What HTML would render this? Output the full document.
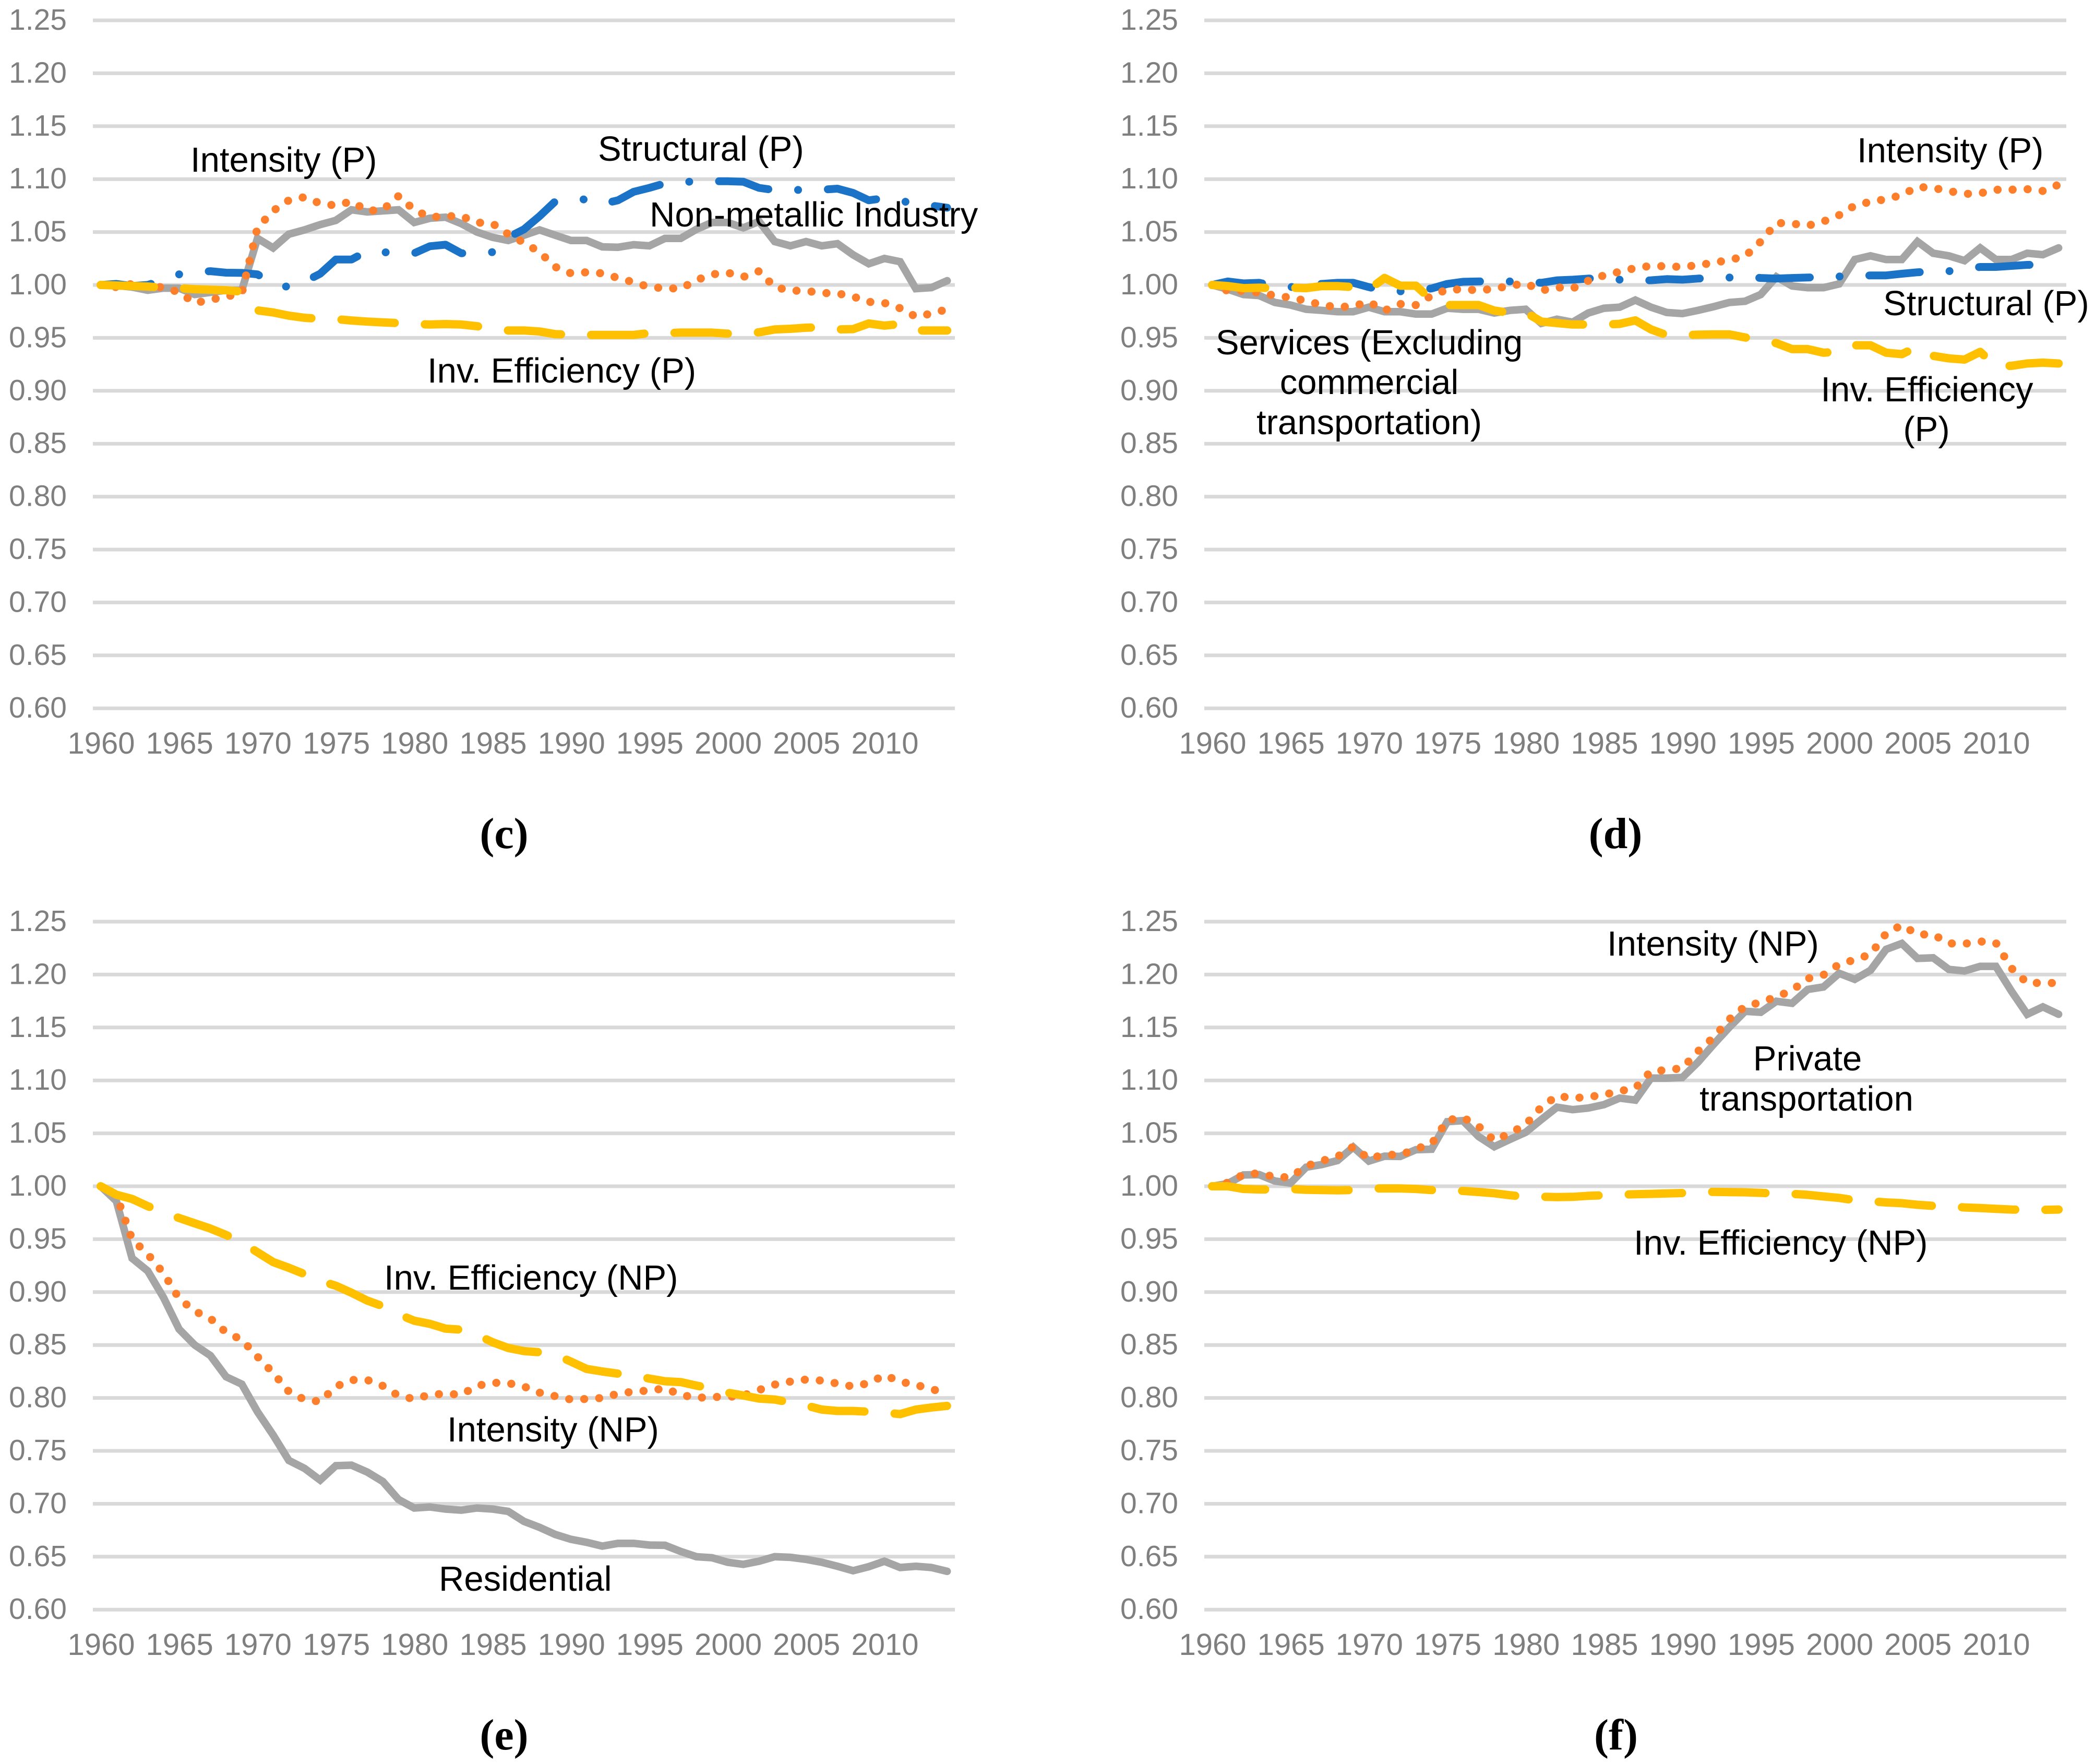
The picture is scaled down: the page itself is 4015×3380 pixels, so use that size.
<!DOCTYPE html>
<html lang="en">
<head>
<meta charset="utf-8">
<title>Decomposition index charts (c)-(f)</title>
<style>
html,body{margin:0;padding:0;background:#fff;}
svg{display:block;}
.ann{font-family:"Liberation Sans",sans-serif;font-size:67px;fill:#000;}
.tick{font-family:"Liberation Sans",sans-serif;font-size:57px;fill:#7f7f7f;}
.xtick{font-size:58px;}
.cap{font-family:"Liberation Serif",serif;font-size:84px;font-weight:bold;fill:#000;text-anchor:middle;}
</style>
</head>
<body>
<svg id="figure" xmlns="http://www.w3.org/2000/svg" width="4015" height="3380" viewBox="0 0 4015 3380">
<rect x="0" y="0" width="4015" height="3380" fill="#ffffff"/>
<g id="marks"></g>
<g id="labels">
<text class="ann" x="365" y="329">Intensity (P)</text>
<text class="ann" x="1146" y="308">Structural (P)</text>
<text class="ann" x="1245" y="434">Non-metallic Industry</text>
<text class="ann" x="819" y="733">Inv. Efficiency (P)</text>
<text class="cap" x="966" y="1625">(c)</text>

<text class="ann" x="3559" y="311">Intensity (P)</text>
<text class="ann" x="3609" y="604">Structural (P)</text>
<text class="ann" x="2624" y="679" text-anchor="middle">Services (Excluding</text>
<text class="ann" x="2624" y="755" text-anchor="middle">commercial</text>
<text class="ann" x="2624" y="832" text-anchor="middle">transportation)</text>
<text class="ann" x="3693" y="769" text-anchor="middle">Inv. Efficiency</text>
<text class="ann" x="3692" y="845" text-anchor="middle">(P)</text>
<text class="cap" x="3096" y="1625">(d)</text>

<text class="ann" x="736" y="2471">Inv. Efficiency (NP)</text>
<text class="ann" x="857" y="2762">Intensity (NP)</text>
<text class="ann" x="841" y="3048">Residential</text>
<text class="cap" x="966" y="3352">(e)</text>

<text class="ann" x="3080" y="1831">Intensity (NP)</text>
<text class="ann" x="3464" y="2051" text-anchor="middle">Private</text>
<text class="ann" x="3462" y="2128" text-anchor="middle">transportation</text>
<text class="ann" x="3131" y="2404">Inv. Efficiency (NP)</text>
<text class="cap" x="3097" y="3352">(f)</text>
</g>
</svg>
<script>
var years = [];
for (var yr = 1960; yr <= 2014; yr++) { years.push(yr); }
var xTickLabels = [1960,1965,1970,1975,1980,1985,1990,1995,2000,2005,2010];
var yTickLabels = [1.25,1.20,1.15,1.10,1.05,1.00,0.95,0.90,0.85,0.80,0.75,0.70,0.65,0.60];

var cGray = [
1.000,.9995,.998,.995,.997,.997,.991,.993,.995,.995,
1.044,1.035,1.048,1.052,1.057,1.061,1.071,1.069,1.070,1.071,
1.059,1.063,1.064,1.058,1.050,1.045,1.042,1.047,1.052,1.047,
1.042,1.042,1.036,1.0356,1.038,1.037,1.044,1.044,1.0525,1.059,
1.059,1.054,1.060,1.041,1.037,1.041,1.037,1.039,1.0285,1.020,
1.025,1.022,.9965,.9975,1.004];
var cOrange = [
1.000,.998,1.001,.998,.998,.993,.983,.986,.989,.992,
1.054,1.070,1.080,1.083,1.077,1.075,1.079,1.070,1.071,1.084,
1.071,1.064,1.065,1.065,1.059,1.058,1.048,1.040,1.031,1.017,
1.011,1.012,1.011,1.0066,1.0025,.998,.997,.9965,1.0045,1.010,
1.0116,1.0076,1.013,.998,.9947,.9944,.9924,.992,.989,.984,
.983,.978,.970,.973,.977];
var cBlue = [
1.000,1.001,.999,1.000,1.005,1.010,1.012,1.013,1.0116,1.0114,
1.010,1.001,.998,1.003,1.0106,1.024,1.024,1.032,1.031,1.030,
1.030,1.0366,1.038,1.030,1.030,1.031,1.045,1.0525,1.065,1.079,
1.080,1.081,1.0765,1.080,1.088,1.0917,1.096,1.097,1.098,1.098,
1.098,1.0975,1.0917,1.0896,1.0896,1.090,1.090,1.091,1.087,1.080,
1.082,1.080,1.076,1.075,1.073];
var cYellow = [
1.000,.9995,.999,.9985,.9975,.997,.996,.9955,.995,.9937,
.976,.974,.971,.969,.968,.9677,.9664,.9654,.9646,.964,
.963,.9626,.963,.9626,.961,.9596,.957,.957,.956,.9535,
.953,.9528,.9528,.9528,.9528,.9545,.9545,.955,.955,.955,
.954,.954,.9553,.958,.9586,.9596,.960,.958,.9583,.9636,
.9616,.963,.957,.957,.957];

var dGray = [
1.000,.996,.991,.990,.9835,.981,.977,.976,.9747,.9747,
.979,.9747,.9747,.9725,.9725,.978,.977,.977,.9735,.976,
.977,.9637,.9676,.9648,.9735,.978,.979,.9857,.979,.974,
.973,.976,.9795,.9835,.9846,.991,1.0077,.999,.9974,.9974,
1.001,1.024,1.0275,1.024,1.024,1.041,1.030,1.0275,1.023,1.035,
1.024,1.024,1.030,1.0286,1.035];
var dOrange = [
1.000,.9945,.9945,.9927,.990,.988,.985,.981,.979,.980,
.984,.9758,.982,.981,.990,.9956,.9958,.995,.9963,.9993,
1.0015,.9947,.9978,.9967,1.004,1.009,1.0125,1.016,1.018,1.0176,
1.017,1.0187,1.021,1.0236,1.027,1.041,1.0586,1.058,1.056,1.060,
1.066,1.075,1.0786,1.081,1.085,1.0927,1.0916,1.0888,1.086,1.0866,
1.090,1.090,1.0905,1.0888,1.0947];
var dBlue = [
1.000,1.0033,1.0015,1.002,.999,.998,.9993,1.001,1.002,1.002,
.998,.9945,.994,.995,.9967,1.001,1.003,1.0033,1.0033,1.0033,
1.0033,1.002,1.0044,1.005,1.006,1.0064,1.005,1.004,1.0044,1.0055,
1.005,1.006,1.0066,1.007,1.0077,1.0066,1.006,1.0066,1.007,1.0077,
1.008,1.008,1.009,1.009,1.0106,1.012,1.0128,1.013,1.0148,1.017,
1.017,1.018,1.019,1.019,1.019];
var dYellow = [
1.000,.9989,.997,.9974,.997,.9974,.997,.9989,.9989,.998,
.9956,1.0066,.9993,.9993,.9857,.981,.981,.981,.9758,.9736,
.974,.9654,.964,.9626,.9626,.9626,.9632,.9665,.958,.9526,
.9526,.953,.9533,.9533,.9504,.948,.945,.9394,.9394,.936,
.937,.943,.943,.936,.9346,.9416,.933,.9306,.9295,.9368,
.923,.9236,.9258,.9266,.9258];

var eGray = [
1.000,.986,.932,.920,.895,.865,.850,.840,.820,.813,
.787,.765,.741,.7335,.7224,.736,.7365,.730,.721,.704,
.696,.697,.695,.694,.696,.695,.6928,.6834,.6777,.671,
.6664,.6636,.660,.6626,.6626,.661,.6608,.655,.650,.649,
.6447,.6428,.6457,.650,.6494,.6475,.6447,.641,.6368,.6406,
.6457,.6398,.641,.6398,.6362];
var eOrange = [
1.000,.9915,.950,.9358,.918,.894,.882,.875,.862,.855,
.839,.8237,.806,.7984,.7966,.8107,.817,.817,.8114,.802,
.799,.803,.804,.803,.8114,.8144,.814,.8108,.805,.8017,
.7985,.799,.800,.804,.806,.807,.809,.803,.800,.801,
.801,.8023,.8075,.8126,.8155,.8174,.8164,.8136,.8108,.814,
.8215,.8155,.8123,.8085,.804];
var eYellow = [
1.000,.992,.988,.9812,.975,.970,.965,.960,.954,.947,
.9376,.9284,.923,.917,.9106,.906,.8994,.892,.8867,.879,
.873,.870,.8655,.8645,.8597,.8526,.8472,.8443,.8432,.841,
.8343,.8274,.825,.823,.8211,.8183,.8158,.815,.8117,.8089,
.805,.8023,.7994,.7985,.7957,.7928,.789,.7877,.7877,.787,
.7862,.7847,.789,.791,.7925];

var fGray = [
1.000,1.0025,1.0107,1.011,1.005,1.003,1.018,1.0205,1.0243,1.037,
1.0238,1.0284,1.0282,1.0345,1.035,1.061,1.062,1.047,1.0374,1.0443,
1.051,1.063,1.0747,1.0724,1.0739,1.0771,1.0833,1.0814,1.1022,1.1022,
1.1028,1.1173,1.1342,1.1503,1.1653,1.1644,1.1748,1.1729,1.186,1.1883,
1.2012,1.1955,1.204,1.2238,1.2294,1.2153,1.2159,1.2049,1.2034,1.2078,
1.2078,1.1842,1.1625,1.1695,1.1625];
var fOrange = [
1.000,1.0033,1.011,1.0123,1.0087,1.0085,1.019,1.024,1.028,1.0374,
1.026,1.030,1.0295,1.0353,1.040,1.0624,1.065,1.0566,1.0433,1.050,
1.0583,1.0747,1.0854,1.0833,1.0843,1.0865,1.0899,1.0928,1.1088,1.1097,
1.1116,1.1276,1.1408,1.1578,1.170,1.1738,1.179,1.1851,1.1963,1.1997,
1.2097,1.214,1.2191,1.2389,1.2468,1.2379,1.2379,1.2295,1.2291,1.2313,
1.230,1.2059,1.1921,1.1921,1.192];
var fYellow = [
1.000,1.000,.9975,.997,.997,.9975,.9967,.9964,.9962,.9964,
.998,.998,.998,.9975,.9964,.9962,.9956,.9946,.9934,.9915,
.990,.9901,.9898,.990,.991,.9915,.992,.9925,.9928,.9932,
.9936,.9943,.9947,.9945,.9943,.9938,.9932,.9928,.9919,.9904,
.989,.9868,.9859,.9847,.984,.9825,.9815,.981,.980,.9794,
.9787,.978,.9777,.9777,.978];

var SVG_NS = 'http://www.w3.org/2000/svg';
var GRAY = '#a5a5a5', BLUE = '#1a73c7', ORANGE = '#fd7f2c', YELLOW = '#ffc000';
var marksRoot = document.getElementById('marks');

function makeAxisX(left) {
  return function (year) { return left + 15 + (year - years[0]) * 30.04; };
}
function makeAxisY(oneY) {
  return function (value) { return oneY - (value - 1) * 2028; };
}
function drawPanel(id, left, oneY, labelRight, series) {
  var xAxis = makeAxisX(left);
  var yAxis = makeAxisY(oneY);
  var g = document.createElementNS(SVG_NS, 'g');
  
  
  marksRoot.appendChild(g);

  yTickLabels.forEach(function (tick) {
    var line = document.createElementNS(SVG_NS, 'line');
    
    
    line.setAttribute('x1', left);
    line.setAttribute('x2', left + 1652);
    line.setAttribute('y1', yAxis(tick));
    line.setAttribute('y2', yAxis(tick));
    line.setAttribute('stroke', '#d9d9d9');
    line.setAttribute('stroke-width', '7');
    g.appendChild(line);

    var label = document.createElementNS(SVG_NS, 'text');
    
    
    label.setAttribute('class', 'tick');
    label.setAttribute('x', labelRight);
    label.setAttribute('y', yAxis(tick) + 18);
    label.setAttribute('text-anchor', 'end');
    label.textContent = tick.toFixed(2);
    g.appendChild(label);
  });

  xTickLabels.forEach(function (year) {
    var label = document.createElementNS(SVG_NS, 'text');
    
    
    label.setAttribute('class', 'tick xtick');
    label.setAttribute('x', xAxis(year) + 1);
    label.setAttribute('y', yAxis(0.60) + 87);
    label.setAttribute('text-anchor', 'middle');
    label.textContent = String(year);
    g.appendChild(label);
  });

  series.forEach(function (s) {
    var d = '';
    s.values.forEach(function (v, i) {
      d += (i === 0 ? 'M' : 'L') + xAxis(years[i]).toFixed(1) + ' ' + yAxis(v).toFixed(1) + ' ';
    });
    var path = document.createElementNS(SVG_NS, 'path');
    
    
    path.setAttribute('d', d);
    path.setAttribute('fill', 'none');
    path.setAttribute('stroke', s.color);
    path.setAttribute('stroke-width', s.width);
    path.setAttribute('stroke-linecap', 'round');
    path.setAttribute('stroke-linejoin', s.dash === 'none' ? 'miter' : 'round');
    if (s.dash !== 'none') { path.setAttribute('stroke-dasharray', s.dash); }
    g.appendChild(path);
  });
}
function grayStyle(values) { return {name: 'total', values: values, color: GRAY, width: 14.5, dash: 'none'}; }
function blueStyle(values) { return {name: 'structural', values: values, color: BLUE, width: 15, dash: '97 57 0.1 57'}; }
function orangeStyle(values) { return {name: 'intensity', values: values, color: ORANGE, width: 15.5, dash: '0.1 28.7'}; }
function yellowStyle(values) { return {name: 'inv-efficiency', values: values, color: YELLOW, width: 16, dash: '102 58'}; }

drawPanel('c', 178, 546, 128, [grayStyle(cGray), blueStyle(cBlue), orangeStyle(cOrange), yellowStyle(cYellow)]);
drawPanel('d', 2308, 546, 2258, [grayStyle(dGray), blueStyle(dBlue), orangeStyle(dOrange), yellowStyle(dYellow)]);
drawPanel('e', 178, 2273, 128, [grayStyle(eGray), orangeStyle(eOrange), yellowStyle(eYellow)]);
drawPanel('f', 2308, 2273, 2258, [grayStyle(fGray), orangeStyle(fOrange), yellowStyle(fYellow)]);
</script>
</body>
</html>
